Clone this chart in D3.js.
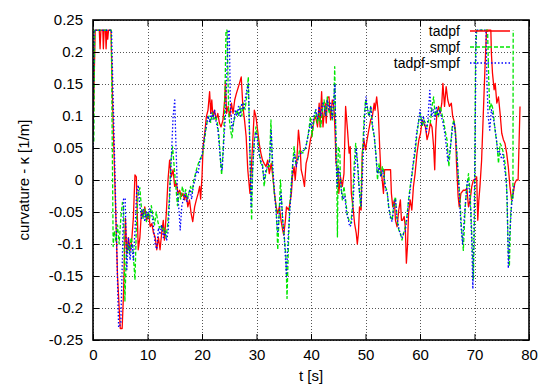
<!DOCTYPE html>
<html>
<head>
<meta charset="utf-8">
<script src="https://cdn.jsdelivr.net/npm/d3@7"></script>
<style>
  body { margin: 0; background: #fff; }
  svg { display: block; }
  text { font-family: "Liberation Sans", Arial, Helvetica, sans-serif; }
</style>
</head>
<body>
<svg id="chart" width="541" height="385"></svg>
<script>
// Axis ticks
const xTicks = [0, 10, 20, 30, 40, 50, 60, 70, 80];
const yTicks = [-0.25, -0.2, -0.15, -0.1, -0.05, 0, 0.05, 0.1, 0.15, 0.2, 0.25];
const yTickLabels = ["-0.25", "-0.2", "-0.15", "-0.1", "-0.05", "0", "0.05", "0.1", "0.15", "0.2", "0.25"];

// Series names (legend order)
const seriesNames = ["tadpf", "smpf", "tadpf-smpf"];

// Curvature κ [1/m] over time t [s], as [t, κ]
const tadpf = [
  [0,0.07],[0.4,0.234],[1.15,0.234],[1.3,0.205],[1.45,0.234],[1.8,0.234],[1.9,0.205],[2.05,0.234],[2.3,0.234],[2.4,0.205],[2.55,0.234],[2.7,0.22],[2.85,0.234],[3.3,0.234],
  [3.6,0.12],[4.0,0.0],[4.5,-0.15],[5.0,-0.232],[5.35,-0.232],[5.6,-0.177],[5.95,-0.06],[6.2,-0.115],[6.5,-0.09],[6.8,-0.11],[7.1,-0.095],[7.4,-0.06],[7.7,0.008],[7.95,0.005],[8.3,-0.109],[8.6,-0.09],[8.9,-0.047],[9.2,-0.057],[9.5,-0.042],[9.85,-0.063],[10.2,-0.052],[10.5,-0.073],[10.8,-0.068],[11.1,-0.083],[11.4,-0.089],[11.7,-0.109],[12.0,-0.089],[12.3,-0.109],[12.6,-0.083],[12.9,-0.063],[13.1,-0.094],[13.45,-0.052],[13.76,0.0],[14.06,0.031],[14.37,0.005],[14.7,0.016],[14.98,-0.01],[15.3,-0.005],[15.6,-0.021],[15.9,-0.016],[16.2,-0.026],[16.5,-0.021],[16.8,-0.031],[17.1,-0.021],[17.4,-0.042],[17.7,-0.031],[18.0,-0.052],[18.3,-0.065],[18.65,-0.042],[18.96,-0.031],[19.3,-0.021],[19.57,-0.01],[19.75,-0.03],[20.0,0.005],[20.2,0.052],[20.5,0.073],[20.8,0.099],[21.1,0.109],[21.4,0.138],[21.6,0.104],[21.8,0.125],[22.0,0.099],[22.3,0.109],[22.6,0.094],[22.9,0.104],[23.2,0.089],[23.5,0.083],[23.85,0.094],[24.15,0.125],[24.3,0.154],[24.5,0.104],[24.8,0.115],[25.1,0.099],[25.4,0.12],[25.7,0.104],[26.0,0.125],[26.3,0.135],[26.7,0.146],[27.2,0.161],[27.5,0.115],[27.8,0.094],[28.1,0.068],[28.4,0.016],[28.8,-0.021],[29.2,0.042],[29.6,0.109],[29.9,0.099],[30.2,0.078],[30.5,0.057],[30.8,0.042],[31.1,0.031],[31.4,0.026],[31.75,0.021],[32.05,0.031],[32.35,0.01],[32.7,0.026],[33.0,0.005],[33.3,-0.021],[33.6,-0.042],[33.9,-0.052],[34.2,-0.042],[34.5,-0.063],[34.8,-0.078],[35.0,-0.086],[35.3,-0.063],[35.5,-0.042],[35.9,-0.047],[36.15,-0.036],[36.4,-0.021],[36.6,0.005],[36.9,0.021],[37.1,0.0],[37.4,0.031],[37.7,0.078],[38.0,0.052],[38.2,0.016],[38.5,0.005],[38.8,-0.01],[39.1,0.026],[39.4,0.036],[39.7,0.052],[39.9,0.063],[40.2,0.073],[40.55,0.094],[40.85,0.099],[41.2,0.083],[41.5,0.12],[41.65,0.083],[41.95,0.138],[42.2,0.083],[42.6,0.12],[42.8,0.089],[43.0,0.128],[43.3,0.13],[43.6,0.094],[43.9,0.125],[44.2,0.115],[44.4,0.078],[44.6,0.026],[44.95,0.016],[45.1,-0.021],[45.4,0.005],[45.75,-0.01],[46.05,0.01],[46.35,0.115],[46.7,0.078],[47.0,0.042],[47.2,0.052],[47.4,-0.021],[47.7,-0.042],[48.0,-0.068],[48.3,-0.083],[48.5,-0.1],[48.7,-0.083],[48.9,-0.042],[49.2,-0.047],[49.4,0.042],[49.7,0.063],[50.0,0.047],[50.3,0.063],[50.6,0.078],[50.95,0.094],[51.25,0.099],[51.6,0.12],[51.75,0.109],[52.05,0.13],[52.35,0.104],[52.6,0.052],[52.8,0.016],[52.95,0.01],[53.3,-0.021],[53.5,0.016],[53.95,0.016],[54.4,0.016],[54.6,0.016],[54.75,-0.021],[55.0,-0.042],[55.3,-0.031],[55.5,-0.063],[55.8,-0.073],[56.1,-0.047],[56.4,-0.031],[56.6,-0.063],[56.8,-0.063],[57.1,-0.057],[57.3,-0.073],[57.5,-0.13],[57.7,-0.104],[57.9,-0.052],[58.2,-0.031],[58.5,-0.047],[58.8,-0.01],[59.1,0.01],[59.45,0.042],[59.8,0.063],[60.1,0.073],[60.4,0.094],[60.7,0.089],[61.0,0.083],[61.3,0.063],[61.6,0.073],[61.9,0.089],[62.2,0.083],[62.5,0.052],[62.7,0.016],[62.9,0.078],[63.1,0.104],[63.4,0.115],[63.7,0.104],[64.0,0.12],[64.2,0.151],[64.5,0.115],[64.8,0.146],[65.1,0.125],[65.4,0.115],[65.75,0.12],[66.0,0.099],[66.2,0.094],[66.5,0.078],[66.7,0.026],[67.0,-0.026],[67.2,-0.042],[67.5,-0.021],[67.95,-0.016],[68.3,-0.016],[68.6,-0.013],[68.9,-0.042],[69.2,-0.031],[69.5,-0.01],[69.8,0.0],[70.1,0.0],[70.4,0.005],[70.6,-0.063],[70.8,-0.031],[71.0,-0.01],[71.3,0.03],[71.6,0.1],[71.9,0.17],[72.2,0.234],[73.0,0.234],[73.1,0.198],[73.3,0.167],[73.6,0.141],[73.8,0.151],[74.1,0.12],[74.4,0.13],[74.7,0.104],[75.0,0.073],[75.3,0.063],[75.6,0.057],[75.9,0.042],[76.2,0.021],[76.5,-0.01],[76.8,-0.031],[77.1,-0.021],[77.4,-0.005],[77.7,0.0],[78.0,0.0],[78.35,0.115]
];

const smpf = [
  [0.15,0.06],[0.3,0.234],[3.35,0.234],[3.7,-0.104],[3.9,-0.08],[4.2,-0.095],[4.5,-0.07],[4.8,-0.1],[5.1,-0.06],[5.4,-0.035],[5.6,-0.04],[5.85,-0.19],[6.1,-0.12],[6.4,-0.1],[6.7,-0.115],[7.0,-0.09],[7.3,-0.105],[7.7,-0.156],[8.0,-0.06],[8.3,-0.02],[8.6,-0.012],[8.9,-0.045],[9.2,-0.06],[9.5,-0.045],[9.8,-0.065],[10.1,-0.05],[10.4,-0.06],[10.7,-0.04],[11.0,-0.055],[11.3,-0.07],[11.6,-0.05],[11.9,-0.065],[12.2,-0.075],[12.5,-0.07],[12.8,-0.08],[13.1,-0.075],[13.4,-0.09],[13.7,-0.07],[14.0,-0.03],[14.3,0.031],[14.6,0.052],[14.9,0.02],[15.2,-0.01],[15.5,-0.04],[15.8,-0.02],[16.1,-0.03],[16.4,-0.01],[16.7,-0.025],[17.0,-0.015],[17.3,-0.03],[17.6,-0.02],[17.9,-0.01],[18.2,-0.02],[18.5,0.0],[18.8,0.01],[19.1,0.02],[19.5,0.03],[19.8,0.035],[20.1,0.04],[20.4,0.057],[20.7,0.078],[21.0,0.094],[21.3,0.1],[21.6,0.09],[21.9,0.105],[22.2,0.095],[22.5,0.1],[22.8,0.09],[23.1,0.07],[23.4,0.03],[23.6,0.008],[23.9,0.05],[24.2,0.12],[24.4,0.234],[24.6,0.234],[24.9,0.104],[25.2,0.08],[25.5,0.066],[25.8,0.09],[26.1,0.1],[26.4,0.11],[26.7,0.1],[27.0,0.115],[27.3,0.1],[27.6,0.12],[27.9,0.11],[28.2,0.13],[28.5,0.161],[28.75,0.06],[29.1,-0.063],[29.3,0.016],[29.6,0.062],[29.9,0.083],[30.2,0.068],[30.5,0.042],[30.8,0.026],[31.1,0.026],[31.4,-0.01],[31.7,0.01],[32.0,0.021],[32.35,0.021],[32.65,0.094],[32.9,0.021],[33.2,-0.016],[33.6,-0.042],[33.9,-0.109],[34.2,-0.042],[34.4,0.0],[34.8,-0.063],[35.1,-0.089],[35.4,-0.12],[35.6,-0.185],[35.9,-0.089],[36.1,-0.042],[36.6,0.021],[36.9,0.052],[37.2,0.026],[37.6,0.031],[37.9,0.047],[38.5,0.042],[39.1,0.052],[39.6,0.078],[39.9,0.099],[40.2,0.068],[40.55,0.094],[40.85,0.109],[41.2,0.089],[41.5,0.104],[41.8,0.083],[42.1,0.109],[42.4,0.125],[42.7,0.099],[43.0,0.13],[43.3,0.104],[43.6,0.115],[43.9,0.094],[44.2,0.12],[44.35,0.177],[44.5,0.094],[44.7,0.031],[44.85,-0.089],[45.0,0.052],[45.3,0.042],[45.4,0.0],[45.75,-0.031],[46.05,-0.01],[46.35,-0.031],[46.7,-0.057],[47.0,-0.063],[47.3,-0.068],[47.6,-0.042],[47.9,0.021],[48.2,0.057],[48.5,0.031],[48.8,-0.01],[49.1,-0.042],[49.4,0.031],[49.7,0.089],[50.0,0.125],[50.3,0.115],[50.6,0.099],[50.95,0.115],[51.25,0.083],[51.6,0.068],[51.9,0.042],[52.2,0.0],[52.5,0.026],[52.8,0.005],[53.1,0.021],[53.3,0.016],[53.6,-0.01],[53.95,-0.016],[54.25,-0.042],[54.6,-0.057],[54.9,-0.063],[55.2,-0.036],[55.5,-0.026],[55.8,-0.063],[56.1,-0.078],[56.4,-0.083],[56.7,-0.094],[57.0,-0.083],[57.3,-0.073],[57.6,-0.057],[57.9,-0.031],[58.2,-0.01],[58.5,0.005],[58.8,0.026],[59.1,0.042],[59.45,0.073],[59.8,0.094],[60.1,0.104],[60.4,0.083],[60.7,0.094],[61.0,0.089],[61.3,0.083],[61.6,0.094],[61.9,0.089],[62.2,0.115],[62.5,0.13],[62.8,0.099],[63.1,0.109],[63.4,0.099],[63.7,0.115],[64.0,0.104],[64.3,0.094],[64.6,0.078],[64.95,0.063],[65.3,0.021],[65.6,0.052],[65.9,0.083],[66.2,0.094],[66.5,0.073],[66.7,0.052],[67.0,0.01],[67.3,-0.026],[67.6,-0.073],[67.95,-0.11],[68.3,-0.042],[68.6,-0.01],[68.9,0.01],[69.2,-0.021],[69.5,-0.083],[69.8,-0.155],[70.0,-0.063],[70.1,0.094],[70.2,0.2],[70.4,0.234],[72.4,0.234],[72.6,0.16],[72.8,0.11],[73.1,0.12],[73.4,0.11],[73.7,0.083],[74.1,0.057],[74.4,0.026],[74.7,0.057],[75.0,0.052],[75.3,0.042],[75.6,0.026],[75.9,-0.01],[76.2,-0.115],[76.4,-0.135],[76.6,-0.063],[76.9,-0.021],[77.05,-0.03],[77.1,0.234]
];

const tadpfSmpf = [
  [0.0,0.05],[0.2,0.234],[3.4,0.234],[4.7,-0.23],[5.1,-0.225],[5.4,-0.12],[5.6,-0.03],[5.9,-0.028],[6.2,-0.14],[6.5,-0.09],[6.8,-0.125],[7.1,-0.1],[7.4,-0.125],[7.7,-0.08],[8.0,-0.02],[8.3,-0.008],[8.6,-0.04],[8.9,-0.06],[9.2,-0.045],[9.5,-0.065],[9.8,-0.05],[10.1,-0.06],[10.4,-0.045],[10.7,-0.05],[11.0,-0.065],[11.4,-0.1],[11.7,-0.108],[12.0,-0.075],[12.3,-0.085],[12.6,-0.07],[12.9,-0.09],[13.2,-0.08],[13.5,-0.095],[13.8,-0.08],[14.1,-0.02],[14.4,0.04],[14.7,0.1],[15.0,0.125],[15.2,0.06],[15.5,-0.02],[15.8,-0.05],[16.0,-0.078],[16.3,-0.04],[16.6,-0.03],[16.9,-0.02],[17.2,-0.035],[17.5,-0.025],[17.8,-0.015],[18.1,-0.03],[18.4,-0.01],[18.7,0.0],[19.0,0.015],[19.3,0.01],[19.6,0.03],[19.9,0.035],[20.2,0.05],[20.5,0.07],[20.8,0.085],[21.1,0.1],[21.4,0.09],[21.7,0.105],[22.0,0.095],[22.3,0.11],[22.6,0.09],[22.9,0.08],[23.2,0.05],[23.5,0.02],[23.7,0.015],[24.0,0.06],[24.3,0.1],[24.6,0.18],[24.8,0.234],[25.0,0.234],[25.2,0.12],[25.5,0.08],[25.8,0.09],[26.1,0.11],[26.4,0.1],[26.7,0.115],[27.0,0.1],[27.3,0.12],[27.6,0.11],[27.9,0.125],[28.2,0.14],[28.5,0.15],[28.7,0.08],[29.0,-0.042],[29.3,0.02],[29.6,0.06],[29.9,0.075],[30.2,0.06],[30.5,0.04],[30.8,0.03],[31.1,0.02],[31.4,0.0],[31.7,0.015],[32.0,0.02],[32.4,0.03],[32.7,0.078],[33.0,0.02],[33.3,-0.02],[33.6,-0.05],[33.9,-0.083],[34.2,-0.05],[34.5,-0.02],[34.8,-0.06],[35.1,-0.09],[35.5,-0.151],[35.8,-0.09],[36.1,-0.05],[36.4,-0.01],[36.7,0.03],[37.0,0.04],[37.3,0.02],[37.6,0.035],[38.0,0.04],[38.5,0.045],[39.0,0.05],[39.5,0.07],[39.9,0.09],[40.2,0.08],[40.5,0.1],[40.9,0.11],[41.2,0.095],[41.5,0.115],[41.8,0.1],[42.1,0.12],[42.4,0.115],[42.7,0.1],[43.0,0.125],[43.3,0.11],[43.6,0.12],[43.9,0.095],[44.2,0.13],[44.4,0.15],[44.6,0.03],[44.8,-0.01],[45.0,0.02],[45.3,0.01],[45.6,-0.02],[45.9,-0.03],[46.2,-0.025],[46.5,-0.05],[46.8,-0.06],[47.1,-0.073],[47.4,-0.07],[47.7,-0.04],[48.0,0.01],[48.3,0.05],[48.6,0.02],[48.9,-0.02],[49.2,-0.04],[49.5,0.02],[49.8,0.09],[50.1,0.13],[50.4,0.11],[50.7,0.1],[51.0,0.115],[51.3,0.085],[51.6,0.07],[51.9,0.04],[52.2,0.01],[52.5,0.02],[52.8,0.005],[53.1,0.015],[53.4,0.005],[53.7,-0.015],[54.0,-0.02],[54.3,-0.045],[54.6,-0.06],[54.9,-0.065],[55.2,-0.04],[55.5,-0.03],[55.8,-0.06],[56.1,-0.075],[56.4,-0.085],[56.7,-0.09],[57.0,-0.083],[57.3,-0.08],[57.6,-0.06],[57.9,-0.035],[58.2,-0.015],[58.5,0.01],[58.8,0.03],[59.1,0.05],[59.4,0.075],[59.7,0.09],[60.0,0.11],[60.3,0.085],[60.6,0.1],[60.9,0.085],[61.2,0.075],[61.5,0.1],[61.8,0.14],[62.1,0.1],[62.4,0.11],[62.7,0.095],[63.0,0.115],[63.3,0.1],[63.6,0.11],[63.9,0.1],[64.2,0.09],[64.5,0.075],[64.8,0.055],[65.1,0.03],[65.4,0.04],[65.7,0.06],[66.0,0.085],[66.3,0.09],[66.6,0.06],[66.9,0.02],[67.2,-0.02],[67.5,-0.07],[67.8,-0.1],[68.1,-0.06],[68.4,-0.03],[68.7,0.0],[69.0,-0.01],[69.3,-0.05],[69.5,-0.1],[69.7,-0.17],[69.9,-0.08],[70.1,0.05],[70.3,0.234],[72.1,0.234],[72.3,0.15],[72.5,0.1],[72.8,0.078],[73.1,0.11],[73.4,0.1],[73.7,0.085],[74.0,0.065],[74.3,0.042],[74.6,0.045],[74.9,0.035],[75.2,0.04],[75.5,0.02],[75.8,0.0],[76.0,-0.03],[76.2,-0.138],[76.5,-0.08],[76.8,-0.04],[77.1,-0.02],[77.3,-0.006]
];

const svg = d3.select("#chart");
const W = 541, H = 385;
const margin = { left: 93, right: 12, top: 20, bottom: 45 };
const x0 = margin.left, x1 = W - margin.right, y0 = margin.top, y1 = H - margin.bottom;

svg.append("rect").attr("width", W).attr("height", H).attr("fill", "#fff");

const x = d3.scaleLinear().domain([0, 80]).range([x0, x1]);
const y = d3.scaleLinear().domain([-0.25, 0.25]).range([y1, y0]);

// dotted grid
const grid = svg.append("g").attr("stroke", "#555").attr("stroke-width", 1).attr("stroke-dasharray", "1,2");
grid.selectAll(".gx").data(xTicks).join("line")
  .attr("x1", d => Math.round(x(d)) + 0.5).attr("x2", d => Math.round(x(d)) + 0.5)
  .attr("y1", y0).attr("y2", y1);
grid.selectAll(".gy").data(yTicks).join("line")
  .attr("y1", d => Math.round(y(d)) + 0.5).attr("y2", d => Math.round(y(d)) + 0.5)
  .attr("x1", x0).attr("x2", x1);

// series
const series = [
  { name: seriesNames[0], data: tadpf, color: "#ff0000", dash: null, width: 1.3 },
  { name: seriesNames[1], data: smpf, color: "#00e600", dash: "4,2", width: 1.3 },
  { name: seriesNames[2], data: tadpfSmpf, color: "#0000ff", dash: "1.5,2", width: 1.3 }
];

svg.append("clipPath").attr("id", "plotClip").append("rect")
  .attr("x", x0).attr("y", y0).attr("width", x1 - x0).attr("height", y1 - y0);

const line = d3.line().x(d => x(d[0])).y(d => y(d[1]));
const plot = svg.append("g").attr("clip-path", "url(#plotClip)");
series.forEach(s => {
  plot.append("path").datum(s.data)
    .attr("d", line)
    .attr("fill", "none")
    .attr("stroke", s.color)
    .attr("stroke-width", s.width)
    .attr("stroke-linejoin", "round")
    .attr("stroke-dasharray", s.dash);
});

// axes with inward ticks on all four sides
const fmtY = d => yTickLabels[yTicks.indexOf(d)];
const axisStyle = g => {
  g.select(".domain").remove();
  g.selectAll(".tick line").attr("stroke", "#000").attr("stroke-width", 1);
  g.selectAll("text").attr("font-size", 15).attr("fill", "#000")
    .attr("font-family", '"Liberation Sans", Arial, sans-serif');
};
svg.append("g").attr("transform", `translate(${x0},0)`)
  .call(d3.axisLeft(y).tickValues(yTicks).tickFormat(fmtY).tickSizeInner(-6).tickSizeOuter(0).tickPadding(10))
  .call(axisStyle);
svg.append("g").attr("transform", `translate(${x1},0)`)
  .call(d3.axisRight(y).tickValues(yTicks).tickFormat("").tickSizeInner(-6).tickSizeOuter(0))
  .call(axisStyle);
svg.append("g").attr("transform", `translate(0,${y1})`)
  .call(d3.axisBottom(x).tickValues(xTicks).tickFormat(d3.format("d")).tickSizeInner(-6).tickSizeOuter(0).tickPadding(9))
  .call(axisStyle);
svg.append("g").attr("transform", `translate(0,${y0})`)
  .call(d3.axisTop(x).tickValues(xTicks).tickFormat("").tickSizeInner(-6).tickSizeOuter(0))
  .call(axisStyle);

// frame
svg.append("rect").attr("x", x0).attr("y", y0).attr("width", x1 - x0).attr("height", y1 - y0)
  .attr("fill", "none").attr("stroke", "#000").attr("stroke-width", 1.6);

// axis titles
svg.append("text").attr("x", (x0 + x1) / 2).attr("y", 381).attr("text-anchor", "middle")
  .attr("font-size", 15).text("t [s]");
svg.append("text").attr("transform", `translate(29,${(y0 + y1) / 2}) rotate(-90)`)
  .attr("text-anchor", "middle").attr("font-size", 15).text("curvature - κ [1/m]");

// legend
const legend = svg.append("g");
series.forEach((s, i) => {
  const ly = 31 + i * 16;
  legend.append("text").attr("x", 460).attr("y", ly + 5).attr("text-anchor", "end")
    .attr("font-size", 14).text(s.name);
  legend.append("line").attr("x1", 470).attr("x2", 510).attr("y1", ly).attr("y2", ly)
    .attr("stroke", s.color).attr("stroke-width", s.width).attr("stroke-dasharray", s.dash);
});
</script>
</body>
</html>
